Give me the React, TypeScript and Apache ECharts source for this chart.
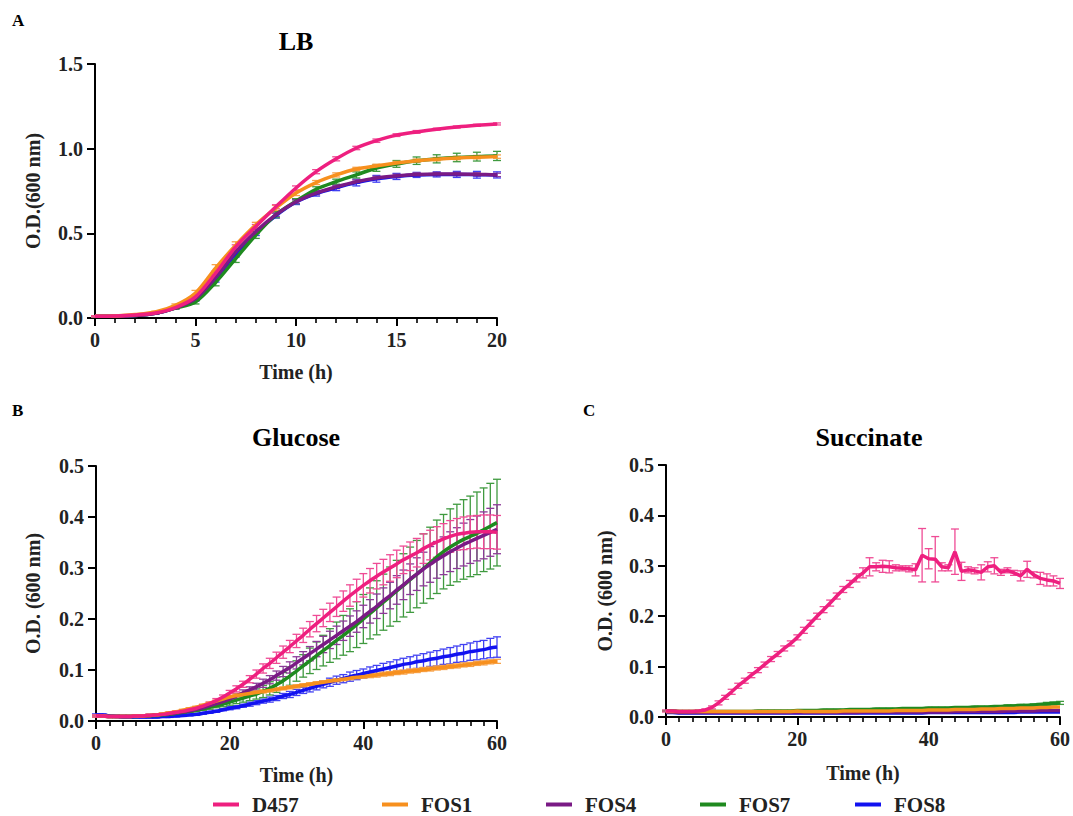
import React, { useEffect, useRef } from "react";
import * as echarts from "echarts";

const SERIF = "Times New Roman, Liberation Serif, DejaVu Serif, Noto Serif, serif";

const STRAINS = ["D457", "FOS1", "FOS4", "FOS7", "FOS8"];
const COLORS: Record<string, string> = {
  D457: "#ee1f7f",
  FOS1: "#f7901e",
  FOS4: "#7a1a85",
  FOS7: "#1f8a1f",
  FOS8: "#1212f0",
};
const ERR_COLORS: Record<string, string> = {
  D457: "#ef4b95",
  FOS1: "#f7a24a",
  FOS4: "#8c3a98",
  FOS7: "#3f9a3f",
  FOS8: "#4040f2",
};

// ---------- LB (hours 0..20) ----------
const LB_TIME = [0, 1, 2, 3, 4, 5, 6, 7, 8, 9, 10, 11, 12, 13, 14, 15, 16, 17, 18, 19, 20];
const LB_D457 = [0.010, 0.012, 0.018, 0.030, 0.062, 0.125, 0.265, 0.420, 0.540, 0.657, 0.768, 0.864, 0.940, 1.004, 1.047, 1.080, 1.099, 1.115, 1.128, 1.138, 1.146];
const LB_FOS1 = [0.010, 0.012, 0.020, 0.035, 0.075, 0.148, 0.295, 0.430, 0.550, 0.650, 0.738, 0.800, 0.845, 0.880, 0.898, 0.915, 0.929, 0.938, 0.945, 0.950, 0.953];
const LB_FOS4 = [0.010, 0.010, 0.015, 0.028, 0.060, 0.115, 0.240, 0.390, 0.510, 0.610, 0.687, 0.738, 0.774, 0.805, 0.827, 0.839, 0.847, 0.850, 0.850, 0.848, 0.845];
const LB_FOS7 = [0.010, 0.010, 0.015, 0.028, 0.058, 0.095, 0.210, 0.350, 0.490, 0.610, 0.690, 0.760, 0.805, 0.845, 0.886, 0.910, 0.929, 0.940, 0.948, 0.953, 0.957];
const LB_FOS8 = [0.010, 0.010, 0.015, 0.028, 0.060, 0.112, 0.232, 0.380, 0.505, 0.605, 0.685, 0.735, 0.770, 0.800, 0.822, 0.836, 0.845, 0.848, 0.848, 0.846, 0.845];
const LB_D457_ERR = [0.003, 0.003, 0.003, 0.004, 0.006, 0.010, 0.012, 0.012, 0.012, 0.012, 0.012, 0.012, 0.012, 0.010, 0.010, 0.008, 0.008, 0.006, 0.006, 0.006, 0.006];
const LB_FOS1_ERR = [0.003, 0.003, 0.003, 0.005, 0.008, 0.015, 0.020, 0.020, 0.015, 0.015, 0.015, 0.012, 0.012, 0.010, 0.010, 0.010, 0.010, 0.010, 0.010, 0.010, 0.010];
const LB_FOS4_ERR = [0.003, 0.003, 0.003, 0.004, 0.006, 0.010, 0.012, 0.012, 0.012, 0.010, 0.010, 0.010, 0.010, 0.010, 0.010, 0.010, 0.010, 0.010, 0.010, 0.010, 0.010];
const LB_FOS7_ERR = [0.003, 0.003, 0.003, 0.004, 0.006, 0.012, 0.020, 0.022, 0.020, 0.018, 0.015, 0.015, 0.015, 0.018, 0.020, 0.020, 0.022, 0.024, 0.025, 0.026, 0.027];
const LB_FOS8_ERR = [0.003, 0.003, 0.003, 0.004, 0.006, 0.012, 0.020, 0.020, 0.018, 0.015, 0.015, 0.015, 0.018, 0.020, 0.020, 0.018, 0.015, 0.015, 0.018, 0.020, 0.018];

// ---------- Glucose & Succinate (hours 0..60) ----------
const H60 = [0, 1, 2, 3, 4, 5, 6, 7, 8, 9, 10, 11, 12, 13, 14, 15, 16, 17, 18, 19, 20, 21, 22, 23, 24, 25, 26, 27, 28, 29, 30, 31, 32, 33, 34, 35, 36, 37, 38, 39, 40, 41, 42, 43, 44, 45, 46, 47, 48, 49, 50, 51, 52, 53, 54, 55, 56, 57, 58, 59, 60];

const GLU_D457 = [0.010, 0.010, 0.009, 0.009, 0.009, 0.009, 0.010, 0.010, 0.011, 0.012, 0.013,
  0.015, 0.017, 0.019, 0.022, 0.025, 0.029, 0.034, 0.040, 0.047,
  0.055, 0.063, 0.072, 0.082, 0.092, 0.103, 0.113, 0.124, 0.135, 0.146,
  0.157, 0.168, 0.180, 0.191, 0.202, 0.213, 0.224, 0.235, 0.246, 0.256,
  0.266, 0.275, 0.284, 0.292, 0.300, 0.308, 0.316, 0.323, 0.330, 0.338,
  0.345, 0.351, 0.357, 0.362, 0.366, 0.368, 0.370, 0.371, 0.371, 0.371, 0.370];
const GLU_D457_ERR = [0.002, 0.002, 0.002, 0.002, 0.002, 0.002, 0.002, 0.002, 0.002, 0.002, 0.002,
  0.002, 0.002, 0.002, 0.002, 0.002, 0.003, 0.003, 0.004, 0.004,
  0.005, 0.006, 0.006, 0.007, 0.008, 0.009, 0.010, 0.011, 0.012, 0.012,
  0.013, 0.014, 0.015, 0.016, 0.017, 0.018, 0.019, 0.020, 0.021, 0.022,
  0.023, 0.024, 0.025, 0.025, 0.026, 0.027, 0.027, 0.028, 0.028, 0.029,
  0.029, 0.030, 0.030, 0.031, 0.031, 0.032, 0.032, 0.032, 0.033, 0.033, 0.033];
const GLU_FOS1 = [0.010, 0.010, 0.009, 0.009, 0.009, 0.009, 0.010, 0.010, 0.011, 0.012, 0.014,
  0.016, 0.018, 0.021, 0.024, 0.027, 0.031, 0.035, 0.039, 0.043,
  0.047, 0.050, 0.052, 0.054, 0.056, 0.058, 0.060, 0.062, 0.064, 0.066,
  0.068, 0.070, 0.072, 0.074, 0.076, 0.078, 0.080, 0.082, 0.084, 0.086,
  0.087, 0.089, 0.090, 0.092, 0.093, 0.095, 0.096, 0.098, 0.099, 0.101,
  0.102, 0.104, 0.105, 0.107, 0.108, 0.110, 0.111, 0.113, 0.114, 0.116, 0.117];
const GLU_FOS1_ERR = [0.002, 0.002, 0.002, 0.002, 0.002, 0.002, 0.002, 0.002, 0.002, 0.002, 0.002,
  0.002, 0.002, 0.002, 0.002, 0.002, 0.002, 0.002, 0.002, 0.002,
  0.002, 0.003, 0.003, 0.003, 0.003, 0.003, 0.003, 0.003, 0.003, 0.003,
  0.003, 0.003, 0.003, 0.003, 0.003, 0.003, 0.003, 0.003, 0.003, 0.003,
  0.003, 0.004, 0.004, 0.004, 0.004, 0.004, 0.004, 0.004, 0.004, 0.004,
  0.004, 0.004, 0.004, 0.004, 0.004, 0.004, 0.004, 0.004, 0.004, 0.004, 0.004];
const GLU_FOS4 = [0.010, 0.010, 0.009, 0.009, 0.009, 0.009, 0.010, 0.010, 0.011, 0.012, 0.013,
  0.014, 0.016, 0.018, 0.020, 0.023, 0.026, 0.030, 0.034, 0.038,
  0.043, 0.049, 0.055, 0.061, 0.067, 0.074, 0.081, 0.089, 0.097, 0.105,
  0.114, 0.123, 0.132, 0.141, 0.150, 0.159, 0.168, 0.177, 0.186, 0.195,
  0.205, 0.215, 0.225, 0.236, 0.246, 0.257, 0.267, 0.278, 0.288, 0.298,
  0.307, 0.316, 0.324, 0.332, 0.339, 0.346, 0.352, 0.358, 0.364, 0.370, 0.376];
const GLU_FOS4_ERR = [0.002, 0.002, 0.002, 0.002, 0.002, 0.002, 0.002, 0.002, 0.002, 0.002, 0.002,
  0.002, 0.002, 0.002, 0.002, 0.003, 0.003, 0.003, 0.004, 0.004,
  0.005, 0.005, 0.006, 0.006, 0.007, 0.008, 0.008, 0.009, 0.010, 0.011,
  0.012, 0.013, 0.014, 0.015, 0.016, 0.017, 0.018, 0.019, 0.020, 0.021,
  0.022, 0.023, 0.024, 0.025, 0.026, 0.028, 0.029, 0.030, 0.032, 0.033,
  0.035, 0.036, 0.037, 0.039, 0.040, 0.042, 0.043, 0.044, 0.046, 0.047, 0.048];
const GLU_FOS7 = [0.010, 0.010, 0.009, 0.009, 0.009, 0.009, 0.009, 0.010, 0.010, 0.011, 0.012,
  0.013, 0.015, 0.017, 0.019, 0.021, 0.024, 0.027, 0.030, 0.033,
  0.037, 0.041, 0.045, 0.049, 0.053, 0.058, 0.064, 0.071, 0.079, 0.088,
  0.098, 0.108, 0.118, 0.128, 0.138, 0.148, 0.158, 0.168, 0.178, 0.189,
  0.200, 0.211, 0.222, 0.233, 0.244, 0.255, 0.266, 0.277, 0.288, 0.299,
  0.310, 0.322, 0.332, 0.341, 0.349, 0.356, 0.362, 0.368, 0.375, 0.382, 0.389];
const GLU_FOS7_ERR = [0.002, 0.002, 0.002, 0.002, 0.002, 0.002, 0.002, 0.002, 0.002, 0.002, 0.002,
  0.002, 0.002, 0.002, 0.002, 0.003, 0.003, 0.004, 0.004, 0.005,
  0.006, 0.007, 0.008, 0.009, 0.010, 0.012, 0.013, 0.015, 0.016, 0.018,
  0.020, 0.022, 0.025, 0.027, 0.030, 0.033, 0.036, 0.039, 0.042, 0.045,
  0.048, 0.050, 0.053, 0.055, 0.058, 0.060, 0.062, 0.064, 0.066, 0.068,
  0.070, 0.072, 0.073, 0.075, 0.076, 0.078, 0.079, 0.081, 0.082, 0.084, 0.085];
const GLU_FOS8 = [0.012, 0.012, 0.010, 0.009, 0.008, 0.008, 0.008, 0.008, 0.008, 0.008, 0.009,
  0.009, 0.010, 0.011, 0.012, 0.013, 0.015, 0.017, 0.019, 0.022,
  0.025, 0.027, 0.030, 0.033, 0.036, 0.039, 0.042, 0.045, 0.049, 0.052,
  0.056, 0.060, 0.064, 0.068, 0.072, 0.076, 0.080, 0.083, 0.087, 0.090,
  0.093, 0.096, 0.099, 0.102, 0.105, 0.108, 0.111, 0.113, 0.116, 0.118,
  0.121, 0.123, 0.126, 0.128, 0.131, 0.133, 0.136, 0.138, 0.140, 0.143, 0.145];
const GLU_FOS8_ERR = [0.002, 0.002, 0.002, 0.002, 0.002, 0.002, 0.002, 0.002, 0.002, 0.002, 0.002,
  0.002, 0.002, 0.002, 0.002, 0.002, 0.002, 0.002, 0.002, 0.002,
  0.003, 0.003, 0.003, 0.004, 0.004, 0.004, 0.005, 0.005, 0.005, 0.006,
  0.006, 0.006, 0.007, 0.007, 0.007, 0.008, 0.008, 0.008, 0.009, 0.009,
  0.009, 0.010, 0.010, 0.011, 0.011, 0.012, 0.012, 0.013, 0.013, 0.014,
  0.014, 0.015, 0.015, 0.016, 0.016, 0.017, 0.017, 0.018, 0.018, 0.019, 0.020];

const SUC_D457 = [0.012, 0.012, 0.011, 0.011, 0.011, 0.012, 0.014, 0.019, 0.028, 0.039, 0.050,
  0.062, 0.072, 0.083, 0.093, 0.104, 0.115, 0.125, 0.136, 0.146,
  0.158, 0.172, 0.186, 0.200, 0.213, 0.226, 0.240, 0.253, 0.264, 0.276,
  0.286, 0.298, 0.298, 0.299, 0.298, 0.296, 0.295, 0.294, 0.292, 0.321,
  0.314, 0.313, 0.298, 0.296, 0.328, 0.289, 0.292, 0.290, 0.287, 0.298,
  0.300, 0.287, 0.291, 0.286, 0.280, 0.293, 0.282, 0.275, 0.272, 0.270, 0.265];
const SUC_D457_ERR = [0.002, 0.002, 0.002, 0.002, 0.002, 0.002, 0.002, 0.003, 0.004, 0.004, 0.005,
  0.005, 0.005, 0.005, 0.005, 0.005, 0.005, 0.005, 0.005, 0.005,
  0.005, 0.006, 0.006, 0.006, 0.006, 0.006, 0.006, 0.006, 0.007, 0.008,
  0.010, 0.018, 0.008, 0.012, 0.012, 0.006, 0.005, 0.006, 0.012, 0.053,
  0.020, 0.045, 0.008, 0.006, 0.045, 0.018, 0.006, 0.006, 0.015, 0.010,
  0.016, 0.006, 0.005, 0.005, 0.010, 0.016, 0.006, 0.012, 0.012, 0.010, 0.010];
const SUC_FOS1 = [0.011, 0.011, 0.011, 0.011, 0.011, 0.011, 0.011, 0.011, 0.011, 0.011, 0.011,
  0.011, 0.011, 0.011, 0.011, 0.011, 0.011, 0.011, 0.011, 0.011,
  0.012, 0.011, 0.011, 0.011, 0.011, 0.011, 0.011, 0.012, 0.012, 0.012,
  0.012, 0.012, 0.012, 0.012, 0.012, 0.013, 0.013, 0.013, 0.013, 0.013,
  0.014, 0.014, 0.014, 0.014, 0.015, 0.015, 0.015, 0.015, 0.016, 0.016,
  0.016, 0.017, 0.017, 0.017, 0.018, 0.018, 0.018, 0.019, 0.019, 0.020, 0.020];
const SUC_FOS4 = [0.010, 0.010, 0.009, 0.009, 0.009, 0.009, 0.009, 0.009, 0.009, 0.009, 0.009,
  0.009, 0.009, 0.009, 0.009, 0.009, 0.009, 0.009, 0.009, 0.009,
  0.009, 0.009, 0.009, 0.009, 0.009, 0.009, 0.009, 0.009, 0.009, 0.009,
  0.010, 0.010, 0.010, 0.010, 0.010, 0.010, 0.010, 0.010, 0.010, 0.010,
  0.010, 0.010, 0.010, 0.010, 0.011, 0.011, 0.011, 0.011, 0.011, 0.011,
  0.011, 0.011, 0.012, 0.012, 0.012, 0.012, 0.012, 0.013, 0.013, 0.013, 0.013];
const SUC_FOS7 = [0.012, 0.012, 0.011, 0.011, 0.011, 0.011, 0.011, 0.011, 0.011, 0.011, 0.011,
  0.011, 0.011, 0.011, 0.012, 0.012, 0.012, 0.012, 0.012, 0.012,
  0.013, 0.013, 0.013, 0.013, 0.014, 0.014, 0.014, 0.014, 0.015, 0.015,
  0.015, 0.015, 0.016, 0.016, 0.016, 0.016, 0.017, 0.017, 0.017, 0.017,
  0.018, 0.018, 0.018, 0.018, 0.019, 0.019, 0.019, 0.020, 0.020, 0.020,
  0.021, 0.021, 0.022, 0.022, 0.023, 0.023, 0.024, 0.025, 0.026, 0.027, 0.028];
const SUC_FOS7_ERR = [0.001, 0.001, 0.001, 0.001, 0.001, 0.001, 0.001, 0.001, 0.001, 0.001, 0.001,
  0.001, 0.001, 0.001, 0.001, 0.001, 0.001, 0.001, 0.001, 0.001,
  0.001, 0.001, 0.001, 0.001, 0.001, 0.001, 0.001, 0.001, 0.001, 0.001,
  0.001, 0.001, 0.001, 0.001, 0.001, 0.001, 0.001, 0.001, 0.001, 0.001,
  0.001, 0.001, 0.001, 0.001, 0.001, 0.001, 0.001, 0.001, 0.001, 0.001,
  0.001, 0.001, 0.002, 0.002, 0.002, 0.002, 0.002, 0.002, 0.003, 0.003, 0.003];
const SUC_FOS8 = [0.009, 0.009, 0.008, 0.008, 0.008, 0.008, 0.008, 0.008, 0.008, 0.008, 0.008,
  0.008, 0.008, 0.008, 0.008, 0.008, 0.008, 0.008, 0.008, 0.008,
  0.008, 0.008, 0.008, 0.008, 0.008, 0.008, 0.008, 0.008, 0.008, 0.008,
  0.008, 0.008, 0.008, 0.008, 0.008, 0.008, 0.008, 0.008, 0.008, 0.008,
  0.009, 0.009, 0.009, 0.009, 0.009, 0.009, 0.009, 0.009, 0.009, 0.009,
  0.009, 0.009, 0.009, 0.009, 0.010, 0.010, 0.010, 0.010, 0.010, 0.010, 0.010];

type Panel = {
  grid: number;
  time: number[];
  vals: Record<string, number[]>;
  errs: Record<string, number[] | null>;
  smooth: boolean | number;
};

const PANELS: Panel[] = [
  {
    grid: 0, time: LB_TIME, smooth: 0.3,
    vals: { D457: LB_D457, FOS1: LB_FOS1, FOS4: LB_FOS4, FOS7: LB_FOS7, FOS8: LB_FOS8 },
    errs: { D457: LB_D457_ERR, FOS1: LB_FOS1_ERR, FOS4: LB_FOS4_ERR, FOS7: LB_FOS7_ERR, FOS8: LB_FOS8_ERR },
  },
  {
    grid: 1, time: H60, smooth: 0.3,
    vals: { D457: GLU_D457, FOS1: GLU_FOS1, FOS4: GLU_FOS4, FOS7: GLU_FOS7, FOS8: GLU_FOS8 },
    errs: { D457: GLU_D457_ERR, FOS1: GLU_FOS1_ERR, FOS4: GLU_FOS4_ERR, FOS7: GLU_FOS7_ERR, FOS8: GLU_FOS8_ERR },
  },
  {
    grid: 2, time: H60, smooth: false,
    vals: { D457: SUC_D457, FOS1: SUC_FOS1, FOS4: SUC_FOS4, FOS7: SUC_FOS7, FOS8: SUC_FOS8 },
    errs: { D457: SUC_D457_ERR, FOS1: null, FOS4: null, FOS7: SUC_FOS7_ERR, FOS8: null },
  },
];

// drawing order (later on top)
const DRAW_ORDER = ["FOS8", "FOS7", "FOS4", "FOS1", "D457"];

function errorBarRender(color: string) {
  return (_params: any, api: any) => {
    const x = api.value(0);
    const y = api.value(1);
    const e = api.value(2);
    const hi = api.coord([x, y + e]);
    const lo = api.coord([x, y - e]);
    const hw = 4;
    const style = { stroke: color, lineWidth: 1.3, fill: "none" };
    return {
      type: "group",
      children: [
        { type: "line", shape: { x1: hi[0], y1: hi[1], x2: lo[0], y2: lo[1] }, style },
        { type: "line", shape: { x1: hi[0] - hw, y1: hi[1], x2: hi[0] + hw, y2: hi[1] }, style },
        { type: "line", shape: { x1: lo[0] - hw, y1: lo[1], x2: lo[0] + hw, y2: lo[1] }, style },
      ],
    };
  };
}

const TXT = { fontFamily: SERIF, fontWeight: "bold" as const, color: "#222" };

function makeXAxis(gridIndex: number, max: number, interval: number, minorSplit: number, gap: number) {
  return {
    type: "value", gridIndex, min: 0, max, interval,
    name: "Time (h)", nameLocation: "middle", nameGap: gap,
    nameTextStyle: { ...TXT, fontSize: 20 },
    axisLine: { show: true, onZero: false, lineStyle: { color: "#000", width: 2 } },
    axisTick: { show: true, length: 8, lineStyle: { color: "#000", width: 2 } },
    minorTick: { show: true, splitNumber: minorSplit, length: 5, lineStyle: { color: "#000", width: 1.6 } },
    splitLine: { show: false },
    axisLabel: { ...TXT, fontSize: 20, margin: 12 },
  };
}

function makeYAxis(gridIndex: number, max: number, interval: number, name: string, gap: number) {
  return {
    type: "value", gridIndex, min: 0, max, interval,
    name, nameLocation: "middle", nameGap: gap,
    nameTextStyle: { ...TXT, fontSize: 20 },
    axisLine: { show: true, onZero: false, lineStyle: { color: "#000", width: 2 } },
    axisTick: { show: true, length: 8, lineStyle: { color: "#000", width: 2 } },
    splitLine: { show: false },
    axisLabel: { ...TXT, fontSize: 20, margin: 12, formatter: (v: number) => v.toFixed(1) },
  };
}

function buildOption() {
  const series: any[] = [];
  PANELS.forEach((p) => {
    DRAW_ORDER.forEach((s) => {
      const vals = p.vals[s];
      series.push({
        type: "line",
        name: s,
        xAxisIndex: p.grid,
        yAxisIndex: p.grid,
        data: p.time.map((t, i) => [t, vals[i]]),
        showSymbol: false,
        smooth: p.smooth,
        lineStyle: { color: COLORS[s], width: 3.5 },
        itemStyle: { color: COLORS[s] },
        z: 3,
      });
      const errs = p.errs[s];
      if (errs) {
        series.push({
          type: "custom",
          name: s + " SD",
          xAxisIndex: p.grid,
          yAxisIndex: p.grid,
          data: p.time.map((t, i) => [t, vals[i], errs[i]]),
          encode: { x: 0, y: 1 },
          renderItem: errorBarRender(ERR_COLORS[s]),
          z: 3,
        });
      }
    });
  });

  const legendLeft = [213, 382, 546, 700, 855];
  const legends = STRAINS.map((s, i) => ({
    data: [s],
    left: legendLeft[i],
    top: 794,
    padding: 0,
    icon: "rect",
    itemWidth: 26,
    itemHeight: 4,
    selectedMode: false,
    textStyle: { ...TXT, fontSize: 21, padding: [0, 0, 0, 8] },
  }));

  return {
    animation: false,
    backgroundColor: "#fff",
    textStyle: { fontFamily: SERIF },
    title: [
      { text: "A", left: 12, top: 12, padding: 0, textStyle: { ...TXT, color: "#000", fontSize: 17 } },
      { text: "LB", left: 296, top: 28, padding: 0, textAlign: "center", textStyle: { ...TXT, color: "#000", fontSize: 26 } },
      { text: "B", left: 12, top: 402, padding: 0, textStyle: { ...TXT, color: "#000", fontSize: 17 } },
      { text: "Glucose", left: 296, top: 424, padding: 0, textAlign: "center", textStyle: { ...TXT, color: "#000", fontSize: 26 } },
      { text: "C", left: 583, top: 402, padding: 0, textStyle: { ...TXT, color: "#000", fontSize: 17 } },
      { text: "Succinate", left: 869, top: 424, padding: 0, textAlign: "center", textStyle: { ...TXT, color: "#000", fontSize: 26 } },
    ],
    legend: legends,
    grid: [
      { left: 95, top: 64, width: 402, height: 254 },
      { left: 96, top: 466, width: 401, height: 255 },
      { left: 666, top: 465, width: 395, height: 252 },
    ],
    xAxis: [
      makeXAxis(0, 20, 5, 5, 44),
      makeXAxis(1, 60, 20, 10, 44),
      makeXAxis(2, 60, 20, 10, 46),
    ],
    yAxis: [
      makeYAxis(0, 1.5, 0.5, "O.D.(600 nm)", 52),
      makeYAxis(1, 0.5, 0.1, "O.D. (600 nm)", 53),
      makeYAxis(2, 0.5, 0.1, "O.D. (600 nm)", 51),
    ],
    series,
  };
}

export default function App() {
  const ref = useRef<HTMLDivElement>(null);
  useEffect(() => {
    if (!ref.current) return;
    const chart = echarts.init(ref.current, undefined, { renderer: "svg" });
    chart.setOption(buildOption() as any);
    return () => chart.dispose();
  }, []);
  return (
    <div
      ref={ref}
      style={{ position: "fixed", left: 0, top: 0, width: 1073, height: 816, background: "#fff" }}
    />
  );
}
